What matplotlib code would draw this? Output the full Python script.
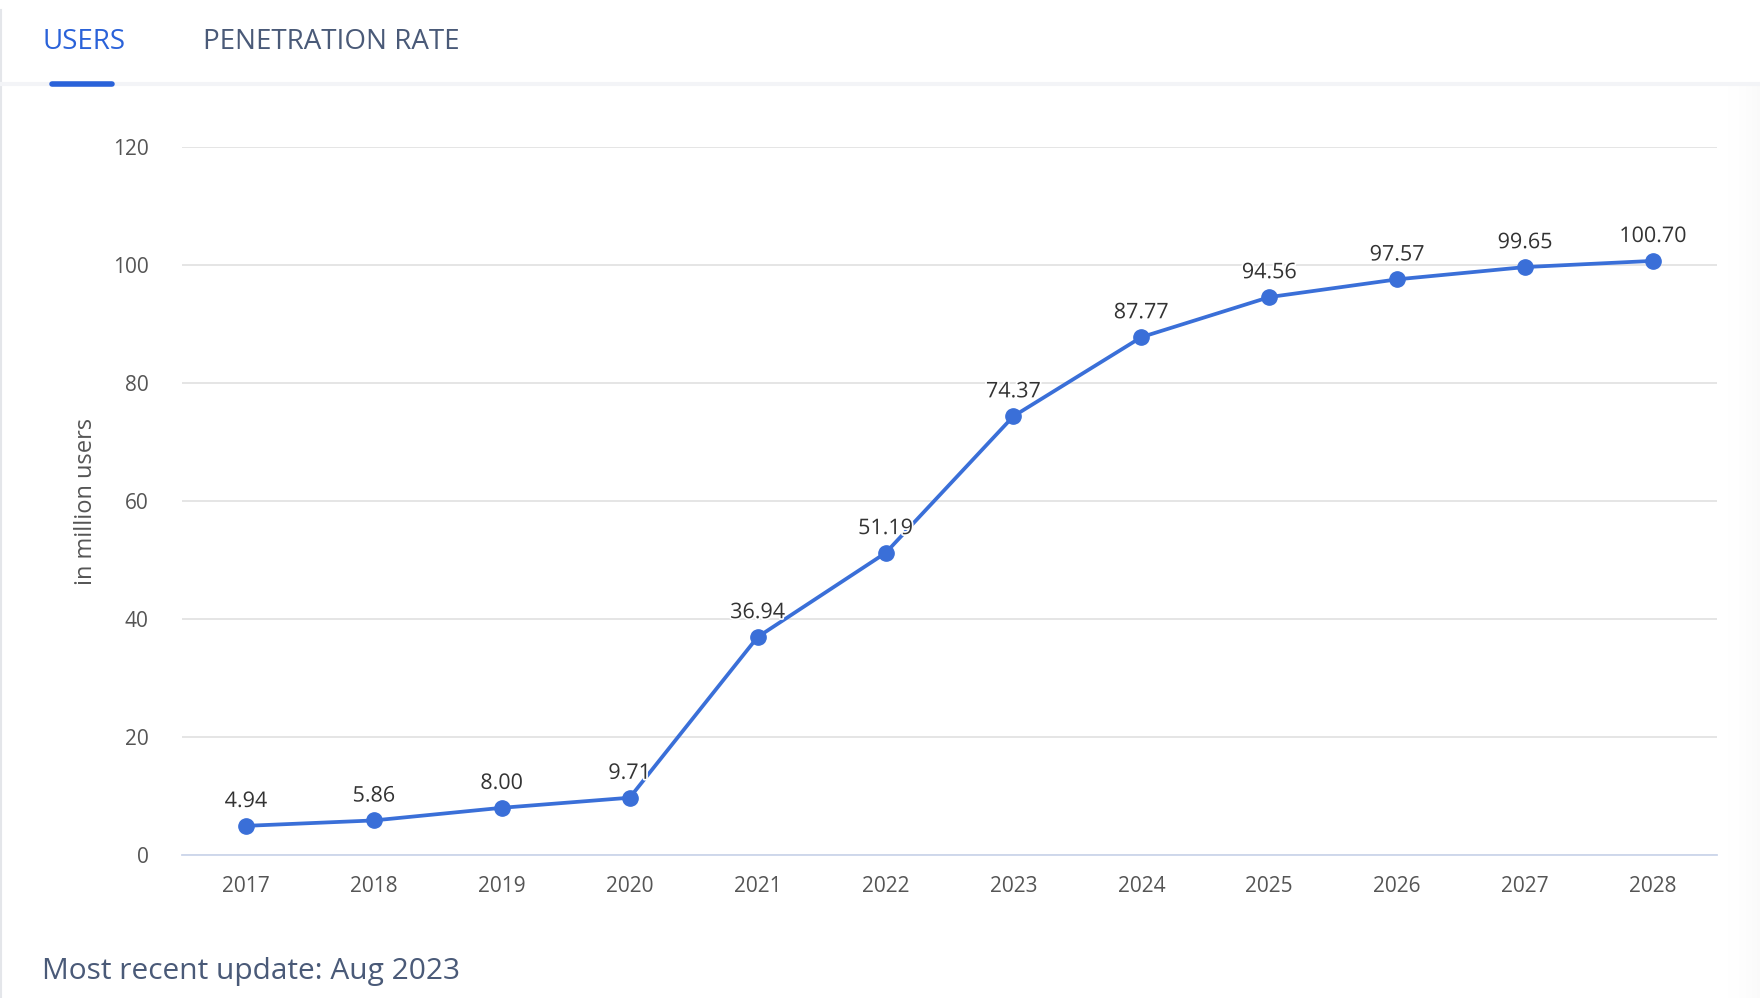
import numpy as np
import matplotlib.pyplot as plt
import matplotlib.patheffects as pe
from matplotlib.lines import Line2D

# Datos
anios = ['2017', '2018', '2019', '2020', '2021', '2022',
         '2023', '2024', '2025', '2026', '2027', '2028']
usuarios = [4.94, 5.86, 8.00, 9.71, 36.94, 51.19,
            74.37, 87.77, 94.56, 97.57, 99.65, 100.70]
marcas_y = [0, 20, 40, 60, 80, 100, 120]

plt.rcParams['font.family'] = ['Open Sans', 'DejaVu Sans']

fig = plt.figure(figsize=(17.6, 9.98), dpi=100)
W, H = 1760, 998

# sombra suave en el borde derecho
sombra = fig.add_axes([1715 / W, 0, 45 / W, 1 - 86 / H])
grad = np.linspace(0, 1, 64) ** 2
sombra.imshow(np.tile(grad, (2, 1)), cmap='Greys', vmin=0, vmax=25,
              aspect='auto', extent=[0, 1, 0, 1])
sombra.axis('off')

# borde de la tarjeta y separador de pestañas
fig.add_artist(Line2D([1 / W, 1 / W], [0, 1 - 10 / H], color='#e4e6ea', lw=1.5))
fig.add_artist(Line2D([0, 1], [1 - 84 / H, 1 - 84 / H], color='#f3f4f7', lw=3))

# pestañas
fig.text(42 / W, 1 - 42 / H, 'USERS', color='#2a62d9', fontsize=20,
         weight='medium', va='center', ha='left')
fig.text(203 / W, 1 - 42 / H, 'PENETRATION RATE', color='#4a5a78', fontsize=20,
         weight='medium', va='center', ha='left')
fig.add_artist(Line2D([52 / W, 112 / W], [1 - 84 / H, 1 - 84 / H],
                      color='#2a62d9', lw=4, solid_capstyle='round'))

ax = fig.add_axes([182 / W, 1 - 855 / H, (1717 - 182) / W, (855 - 147) / H])
x = range(len(anios))
ax.plot(x, usuarios, color='#3a6fd8', lw=2.7, marker='o', markersize=11,
        zorder=3, clip_on=False)

for i, v in zip(x, usuarios):
    ax.annotate(f'{v:.2f}', (i, v), xytext=(0, 10), textcoords='offset points',
                ha='center', va='bottom', fontsize=15.5, color='#333333', zorder=4,
                path_effects=[pe.withStroke(linewidth=2.5, foreground='white')])

ax.set_xlim(-0.5, len(anios) - 0.5)
ax.set_ylim(0, 120)
ax.set_xticks(list(x))
ax.set_xticklabels(anios)
ax.set_yticks(marcas_y)
ax.grid(axis='y', color='#e3e3e3', lw=1.3)
ax.set_axisbelow(True)
for s in ['top', 'right', 'left']:
    ax.spines[s].set_visible(False)
ax.spines['bottom'].set_color('#ccd6eb')
ax.spines['bottom'].set_linewidth(1.3)
ax.tick_params(axis='both', length=0, labelsize=15, labelcolor='#555555')
ax.tick_params(axis='y', pad=24)
ax.tick_params(axis='x', pad=15)
ax.set_ylabel('in million users', fontsize=17, color='#555555', labelpad=11)

fig.text(42 / W, 1 - 972 / H, 'Most recent update: Aug 2023', color='#4a5a78',
         fontsize=21.5, va='center', ha='left')

fig.savefig('out.png', dpi=100)
